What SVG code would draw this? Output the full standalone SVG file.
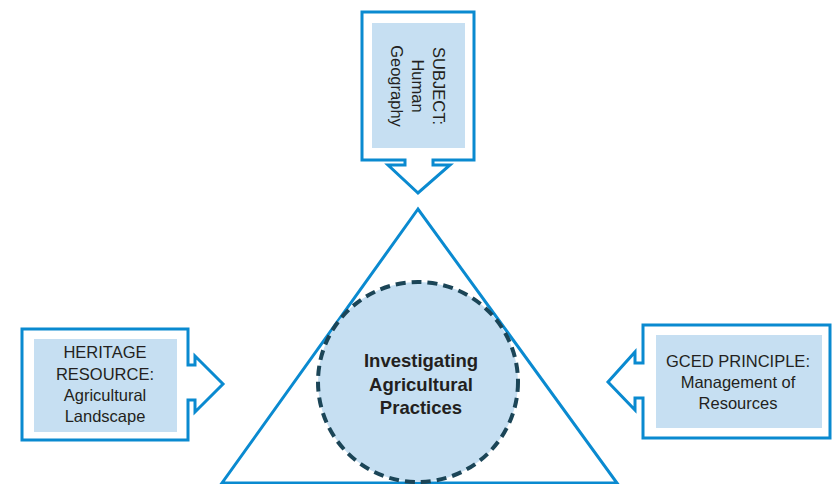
<svg xmlns="http://www.w3.org/2000/svg" width="832" height="484" viewBox="0 0 832 484">
<style>
.frame{fill:#ffffff;stroke:#0a8ad0;stroke-width:3;stroke-linejoin:miter}
.pad{fill:#c6dff2}
.lbl{font-family:"Liberation Sans",Arial,sans-serif;font-size:16.5px;fill:#231f20;text-anchor:middle}
.core{font-family:"Liberation Sans",Arial,sans-serif;font-size:18.5px;font-weight:bold;fill:#231f20;text-anchor:middle}
</style>
<rect width="832" height="484" fill="#ffffff"/>
<g id="connectors">
<polygon points="418,209 222,483 617,483" fill="none" stroke="#0a8ad0" stroke-width="3"/>
</g>
<g id="center">
<circle cx="418" cy="382" r="100" fill="#c6dff2" stroke="#1b4557" stroke-width="4" stroke-dasharray="10,6"/>
<text class="core" x="421" y="367">Investigating</text>
<text class="core" x="421" y="391">Agricultural</text>
<text class="core" x="421" y="414">Practices</text>
</g>
<g id="subject">
<path class="frame" d="M362,12 H474 V160 H433 V165 H450 L418,193 L388,165 H405 V160 H362 Z"/>
<rect class="pad" x="372" y="23" width="93" height="125"/>
<text class="lbl" transform="translate(433,86) rotate(90)">SUBJECT:</text>
<text class="lbl" transform="translate(412,86) rotate(90)">Human</text>
<text class="lbl" transform="translate(391,86) rotate(90)">Geography</text>
</g>
<g id="heritage">
<path class="frame" d="M22,329 H188 V365 H195 V356 L223,384 L195,412 V400 H188 V440 H22 Z"/>
<rect class="pad" x="34" y="339" width="143" height="93"/>
<text class="lbl" x="105" y="358">HERITAGE</text>
<text class="lbl" x="105" y="380">RESOURCE:</text>
<text class="lbl" x="105" y="401">Agricultural</text>
<text class="lbl" x="105" y="422">Landscape</text>
</g>
<g id="gced">
<path class="frame" d="M643,325 H830 V438 H643 V398 H635 V410 L608,382 L635,352 V363 H643 Z"/>
<rect class="pad" x="656" y="335" width="166" height="93"/>
<text class="lbl" x="738" y="367">GCED PRINCIPLE:</text>
<text class="lbl" x="738" y="388">Management of</text>
<text class="lbl" x="738" y="409">Resources</text>
</g>
</svg>
